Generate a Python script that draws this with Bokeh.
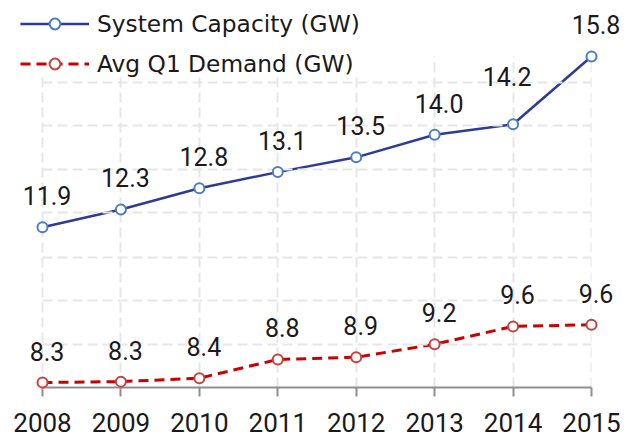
from bokeh.plotting import figure
from bokeh.models import (ColumnDataSource, FixedTicker, Grid, Legend, LegendItem,
                          LinearAxis, Range1d)
from bokeh.core.properties import value
from bokeh.embed import file_html
from bokeh.resources import INLINE

# ---- data ----
years = [2008, 2009, 2010, 2011, 2012, 2013, 2014, 2015]
capacity = [11.87, 12.28, 12.77, 13.14, 13.48, 14.00, 14.24, 15.80]
demand = [8.30, 8.32, 8.40, 8.83, 8.88, 9.18, 9.59, 9.63]
series_names = ["System Capacity (GW)", "Avg Q1 Demand (GW)"]
grid_levels = [9.174, 10.175, 11.183, 12.20, 13.20, 14.21, 15.209]

# label placement (style, pixels)
cap_label_dx = [4.5, 4.5, 4.5, 4.5, 4.5, 4.5, -6, 4.5]
cap_label_dy = [31.5, 31.5, 31.5, 31.5, 31.5, 31.5, 47.5, 31.5]
dem_label_dx = [4.5] * 8
dem_label_dy = [31.5] * 8

cap_src = ColumnDataSource(dict(x=years, y=capacity, lab=[f"{v:.1f}" for v in capacity],
                                dx=cap_label_dx, dy=[-d for d in cap_label_dy]))
dem_src = ColumnDataSource(dict(x=years, y=demand, lab=[f"{v:.1f}" for v in demand],
                                dx=dem_label_dx, dy=[-d for d in dem_label_dy]))

p = figure(width=634, height=437, output_backend="svg", toolbar_location=None,
           x_range=Range1d(2007.4645, 2015.0), y_range=Range1d(8.185, 17.088),
           x_axis_location=None, y_axis_location=None,
           min_border_left=0, min_border_right=43, min_border_top=0, min_border_bottom=50)
p.center = [c for c in p.center if not isinstance(c, Grid)]
p.outline_line_color = None
p.background_fill_color = "white"
p.border_fill_color = "white"

# dashed grid drawn as long inward ticks of axes fixed at the data edges
grid_color = "#e6e6e6"
vgrid = LinearAxis(ticker=FixedTicker(ticks=years), fixed_location=8.185)
hgrid = LinearAxis(ticker=FixedTicker(ticks=grid_levels), fixed_location=2008)
for ax, length in ((vgrid, 331), (hgrid, 549)):
    ax.axis_line_color = None
    ax.major_tick_in = length
    ax.major_tick_out = 0
    ax.major_tick_line_color = grid_color
    ax.major_tick_line_width = 2
    ax.major_tick_line_dash = "10 5"
    ax.minor_tick_line_color = None
    ax.major_label_text_color = None
    ax.major_label_text_font_size = "0px"
p.add_layout(vgrid, "below")
p.add_layout(hgrid, "left")

xaxis = LinearAxis(ticker=FixedTicker(ticks=years), bounds=(2008, 2015))
xaxis.axis_line_color = "#8f8f8f"
xaxis.axis_line_width = 2
xaxis.major_tick_line_color = "#8f8f8f"
xaxis.major_tick_line_width = 2
xaxis.major_tick_out = 9
xaxis.major_tick_in = 0
xaxis.minor_tick_line_color = None
xaxis.major_label_text_font = "Roboto"
xaxis.major_label_text_font_size = "26px"
xaxis.major_label_text_color = "#1a1a1a"
xaxis.major_label_standoff = 16
p.add_layout(xaxis, "below")

l1 = p.line("x", "y", source=cap_src, line_color="#2e3a98", line_width=2.5)
s1 = p.scatter("x", "y", source=cap_src, size=10, marker="circle", fill_color="white",
               line_color="#4a7ec4", line_width=2, level="overlay")
l2 = p.line("x", "y", source=dem_src, line_color="#cc0000", line_width=3, line_dash="10 6")
s2 = p.scatter("x", "y", source=dem_src, size=10, marker="circle", fill_color="white",
               line_color="#c84040", line_width=2, level="overlay")

for src in (cap_src, dem_src):
    p.text("x", "y", text="lab", source=src, text_font=value("Roboto"),
           text_font_size="25px", text_color="#1a1a1a", text_align="center",
           text_baseline="alphabetic", x_offset="dx", y_offset="dy", level="overlay")

legend = Legend(items=[LegendItem(label=series_names[0], renderers=[l1, s1]),
                       LegendItem(label=series_names[1], renderers=[l2, s2])],
                location=(20, 310), margin=0, padding=0, spacing=13,
                glyph_width=69, glyph_height=27, label_height=27, label_standoff=8,
                label_text_font="DejaVu Sans", label_text_font_size="23.3px",
                label_text_color="#1a1a1a", border_line_color=None,
                background_fill_color="white", background_fill_alpha=1.0)
p.add_layout(legend, "center")

open("out.html", "w").write(file_html(p, INLINE))
